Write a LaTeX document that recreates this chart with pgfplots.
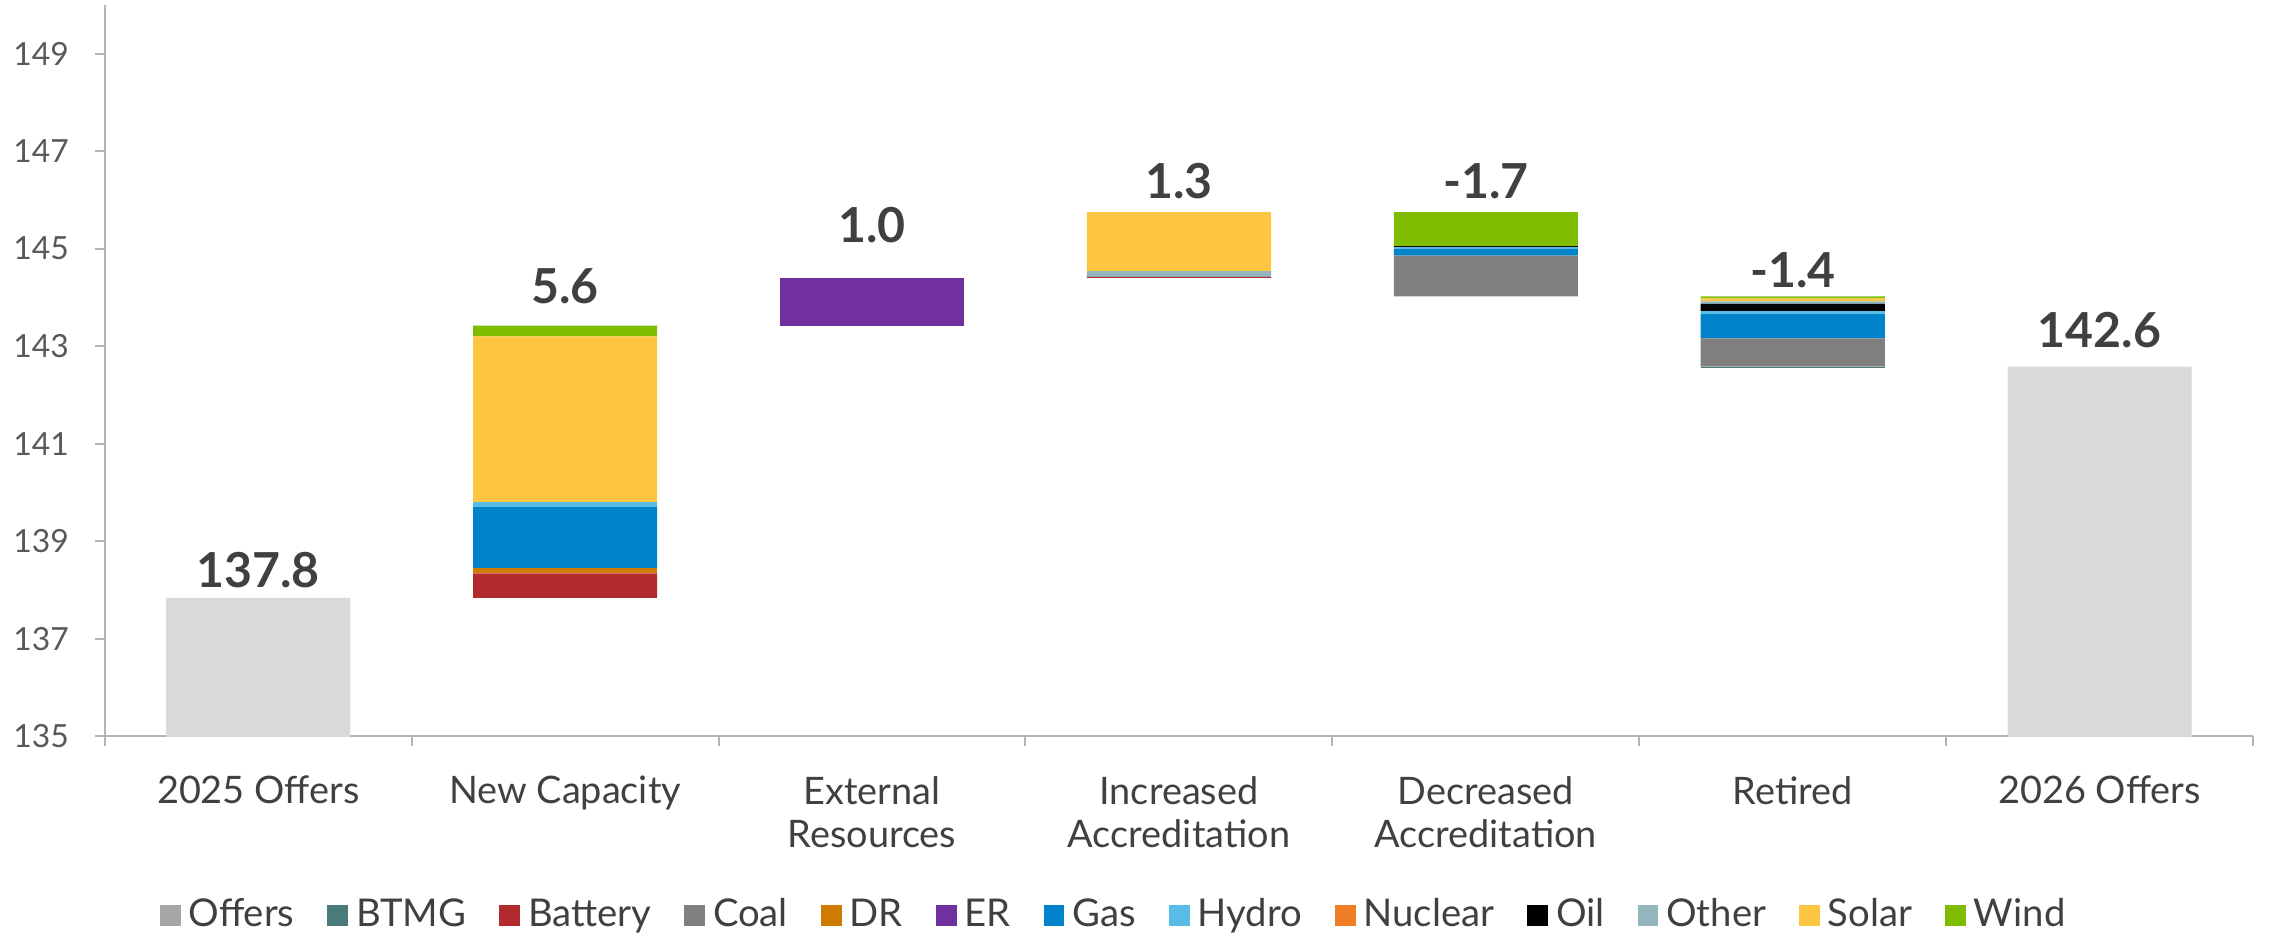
\documentclass[border=0pt]{standalone}
\usepackage{pgfplots}
\pgfplotsset{compat=1.18}
\usepackage{pgfplotstable}
\usepackage{fontspec}
\setmainfont{Lato}

\definecolor{offgray}{HTML}{D9D9D9}
\definecolor{offleg}{HTML}{A6A6A6}
\definecolor{btmg}{HTML}{4A7B7B}
\definecolor{battery}{HTML}{B22A2E}
\definecolor{coal}{HTML}{808080}
\definecolor{dr}{HTML}{CF7A00}
\definecolor{er}{HTML}{7030A0}
\definecolor{gas}{HTML}{0083CA}
\definecolor{hydro}{HTML}{58BDE6}
\definecolor{nuclear}{HTML}{F07E26}
\definecolor{oil}{HTML}{000000}
\definecolor{other}{HTML}{93B5BD}
\definecolor{solar}{HTML}{FEC542}
\definecolor{wind}{HTML}{80BC00}
\definecolor{axgray}{HTML}{B4B4B4}
\definecolor{tickgray}{HTML}{595959}
\definecolor{labgray}{HTML}{404040}

% base = invisible offset of each waterfall step
\pgfplotstableread{
x base offers btmg battery coal dr er gas hydro nuclear oil other solar wind
0 0 137.84 0 0 0 0 0 0 0 0 0 0 0 0
1 137.84 0 0 0.50 0 0.11 0 1.25 0.10 0 0 0 3.40 0.22
2 143.42 0 0 0 0 0 0.98 0 0 0 0 0 0 0
3 144.40 0 0 0.02 0 0 0 0 0 0 0 0.12 1.21 0
4 144.02 0 0 0 0.84 0 0 0.14 0.03 0 0.02 0 0 0.70
5 142.56 0 0.02 0 0.58 0 0 0.50 0.06 0 0.15 0.05 0.06 0.04
6 0 142.58 0 0 0 0 0 0 0 0 0 0 0 0
}\data

% label baseline of each step
\pgfplotstableread{
x ly lbl
0 138.06 137.8
1 143.87 5.6
2 145.12 1.0
3 146.03 1.3
4 146.04 -1.7
5 144.20 -1.4
6 142.98 142.6
}\tops

\pgfplotsset{frame/.style={
  scale only axis, width=539pt, height=183.5pt,
  xmin=-0.5, xmax=6.5, ymin=135, ymax=150}}

\begin{document}
\begin{tikzpicture}
\begin{axis}[
  frame,
  ybar stacked, bar width=0.6,
  ytick={135,137,...,149},
  xtick={0,...,6},
  xticklabels={2025 Offers,New Capacity,{External\\Resources},{Increased\\Accreditation},{Decreased\\Accreditation},Retired,2026 Offers},
  minor xtick={-0.5,0.5,...,6.5},
  major x tick style={draw=none},
  minor tick length=2.5pt,
  major tick length=2.5pt,
  tick align=outside,
  tick style={draw=axgray, line width=0.5pt},
  axis x line*=bottom, axis y line*=left,
  axis line style={draw=axgray, line width=0.6pt, -},
  /pgf/number format/assume math mode=true,
  yticklabel style={font=\fontsize{8}{9}\selectfont, text=tickgray, xshift=-3pt},
  xticklabel style={align=center, font=\fontsize{9.5}{11}\selectfont, text=labgray, yshift=-4pt},
  legend columns=13,
  legend style={draw=none, at={(0.471,-0.245)}, anchor=center,
    font=\fontsize{9.6}{10.5}\selectfont, text=labgray,
    /tikz/every even column/.append style={column sep=6.3pt}},
  legend image code/.code={\fill[#1] (-2.2pt,-2.6pt) rectangle (3pt,2.6pt);},
  every axis plot/.append style={draw=none},
]
\addplot[fill=none, forget plot] table[x=x, y=base] {\data};
\addplot[fill=offgray, forget plot] table[x=x, y=offers] {\data};
\addlegendimage{fill=offleg}
\addlegendentry{Offers}
\addplot[fill=btmg] table[x=x, y=btmg] {\data};
\addlegendentry{BTMG}
\addplot[fill=battery] table[x=x, y=battery] {\data};
\addlegendentry{Battery}
\addplot[fill=coal] table[x=x, y=coal] {\data};
\addlegendentry{Coal}
\addplot[fill=dr] table[x=x, y=dr] {\data};
\addlegendentry{DR}
\addplot[fill=er] table[x=x, y=er] {\data};
\addlegendentry{ER}
\addplot[fill=gas] table[x=x, y=gas] {\data};
\addlegendentry{Gas}
\addplot[fill=hydro] table[x=x, y=hydro] {\data};
\addlegendentry{Hydro}
\addplot[fill=nuclear] table[x=x, y=nuclear] {\data};
\addlegendentry{Nuclear}
\addplot[fill=oil] table[x=x, y=oil] {\data};
\addlegendentry{Oil}
\addplot[fill=other] table[x=x, y=other] {\data};
\addlegendentry{Other}
\addplot[fill=solar] table[x=x, y=solar] {\data};
\addlegendentry{Solar}
\addplot[fill=wind] table[x=x, y=wind] {\data};
\addlegendentry{Wind}
\coordinate (sw) at (rel axis cs:0,0);
\coordinate (ne) at (rel axis cs:1,1);
\end{axis}
% overlay axis for the step labels
\begin{axis}[frame, hide axis, clip=false]
\addplot[only marks, mark=none, point meta=explicit symbolic,
  nodes near coords,
  nodes near coords style={anchor=base, inner sep=0pt,
    font=\bfseries\fontsize{12.1}{13}\selectfont, text=labgray}]
  table[x=x, y=ly, meta=lbl] {\tops};
\end{axis}
\path ([shift={(-24.25pt,-48.75pt)}]sw) rectangle ([shift={(4.75pt,1.25pt)}]ne);
\end{tikzpicture}
\end{document}
